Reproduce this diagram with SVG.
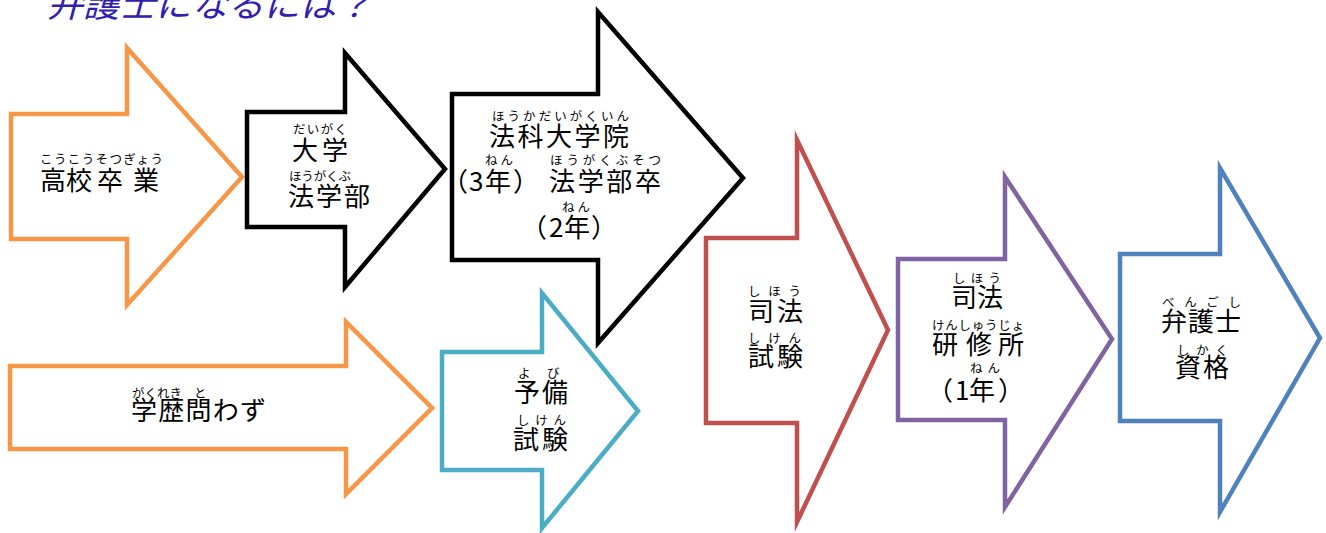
<svg xmlns="http://www.w3.org/2000/svg" width="1326" height="533" viewBox="0 0 1326 533">
<style>
.ar{fill:#fff;stroke-width:4.5;stroke-linejoin:miter;stroke-miterlimit:10}
.t{font-family:"Noto Sans CJK JP","Noto Sans",sans-serif;font-size:26px;fill:#000}
.r{font-family:"Noto Sans CJK JP","Noto Sans",sans-serif;font-size:12.5px;fill:#000}
.ttl{font-family:"Noto Sans CJK JP","Noto Sans",sans-serif;font-size:34px;font-style:italic;fill:#3020b0}
</style>
<rect width="1326" height="533" fill="#fff"/>
<text class="ttl" x="47" y="17" textLength="325" lengthAdjust="spacingAndGlyphs">弁護士になるには？</text>
<g id="connectors"></g>
<g id="n1">
<polygon class="ar" stroke="#f79646" points="11,114 127,114 127,48 242,177 127,305 127,239 11,239"/>
<text class="r" x="40" y="164" textLength="123" lengthAdjust="spacing">こうこうそつぎょう</text>
<text class="t" x="40 66 97 133" y="190">高校卒業</text>
</g>
<g id="n2">
<polygon class="ar" stroke="#000" points="247,112 345,112 345,53 445,169 345,287 345,227 247,227"/>
<text class="r" x="293" y="134" textLength="54" lengthAdjust="spacing">だいがく</text>
<text class="t" x="292" y="160" textLength="56" lengthAdjust="spacing">大学</text>
<text class="r" x="289" y="181" textLength="62" lengthAdjust="spacing">ほうがくぶ</text>
<text class="t" x="288" y="206" textLength="82" lengthAdjust="spacing">法学部</text>
</g>
<g id="n3">
<polygon class="ar" stroke="#000" points="452,94 598,94 598,12 743,178 598,343 598,260 452,260"/>
<text class="r" x="492" y="121" textLength="137" lengthAdjust="spacing">ほうかだいがくいん</text>
<text class="t" x="489" y="146" textLength="140" lengthAdjust="spacing">法科大学院</text>
<text class="r" x="485" y="165" textLength="28" lengthAdjust="spacing">ねん</text>
<text class="t" y="191"><tspan x="442">（</tspan><tspan x="469">3</tspan><tspan x="485">年</tspan><tspan x="513">）</tspan></text>
<text class="r" x="550" y="165" textLength="111" lengthAdjust="spacing">ほうがくぶそつ</text>
<text class="t" x="549" y="191" textLength="112" lengthAdjust="spacing">法学部卒</text>
<text class="r" x="562" y="212" textLength="28" lengthAdjust="spacing">ねん</text>
<text class="t" y="237"><tspan x="521">（</tspan><tspan x="549">2</tspan><tspan x="564">年</tspan><tspan x="591">）</tspan></text>
</g>
<g id="n4">
<polygon class="ar" stroke="#c0504d" points="706,238 797,238 797,140 888,330 797,522 797,423 706,423"/>
<text class="r" x="748" y="296" textLength="53" lengthAdjust="spacing">しほう</text>
<text class="t" x="748" y="321" textLength="55" lengthAdjust="spacing">司法</text>
<text class="r" x="748" y="343" textLength="53" lengthAdjust="spacing">しけん</text>
<text class="t" x="748" y="366" textLength="55" lengthAdjust="spacing">試験</text>
</g>
<g id="n5">
<polygon class="ar" stroke="#8064a2" points="898,259 1005,259 1005,177 1112,339 1005,507 1005,420 898,420"/>
<text class="r" x="953" y="283" textLength="48" lengthAdjust="spacing">しほう</text>
<text class="t" x="951" y="307" textLength="52" lengthAdjust="spacing">司法</text>
<text class="r" x="932" y="330" textLength="92" lengthAdjust="spacing">けんしゅうじょ</text>
<text class="t" x="932 966 998" y="354">研修所</text>
<text class="r" x="970" y="373" textLength="30" lengthAdjust="spacing">ねん</text>
<text class="t" y="400"><tspan x="927">（</tspan><tspan x="955">1</tspan><tspan x="969">年</tspan><tspan x="998">）</tspan></text>
</g>
<g id="n6">
<polygon class="ar" stroke="#4f81bd" points="1120,254 1220,254 1220,168 1320,338 1220,512 1220,421 1120,421"/>
<text class="r" x="1162" y="307" textLength="79" lengthAdjust="spacing">べんごし</text>
<text class="t" x="1161" y="331" textLength="80" lengthAdjust="spacing">弁護士</text>
<text class="r" x="1177" y="355" textLength="51" lengthAdjust="spacing">しかく</text>
<text class="t" x="1175" y="377" textLength="54" lengthAdjust="spacing">資格</text>
</g>
<g id="n7">
<polygon class="ar" stroke="#f79646" points="10,366 346,366 346,322 432,408 346,494 346,449 10,449"/>
<text class="r" x="132" y="398">がくれき<tspan x="194">と</tspan></text>
<text class="t" x="131" y="420" textLength="135" lengthAdjust="spacing">学歴問わず</text>
</g>
<g id="n8">
<polygon class="ar" stroke="#4bacc6" points="442,352 542,352 542,293 638,411 542,528 542,470 442,470"/>
<text class="r" x="518" y="378">よ<tspan x="547">び</tspan></text>
<text class="t" x="514" y="402" textLength="54" lengthAdjust="spacing">予備</text>
<text class="r" x="517" y="425" textLength="49" lengthAdjust="spacing">しけん</text>
<text class="t" x="513" y="449" textLength="55" lengthAdjust="spacing">試験</text>
</g>
</svg>
